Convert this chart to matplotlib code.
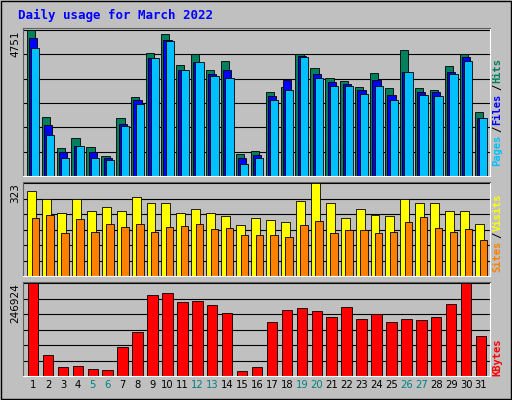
import matplotlib
matplotlib.use("Agg")
import matplotlib.pyplot as plt
import numpy as np

days = list(range(1, 32))
hits = [4751,1920,911,1237,944,651,1887,2571,4003,4621,3612,3970,3449,3742,716,814,2733,2896,3970,3514,3189,3091,2896,3352,2864,4100,2864,2798,3579,3970,2083]
files = [4490,1660,781,976,781,586,1692,2473,3840,4425,3449,3710,3319,3449,586,683,2603,3124,3905,3319,3059,2994,2798,3124,2636,3384,2733,2733,3384,3872,1887]
pages = [4165,1334,586,976,586,521,1627,2343,3840,4393,3449,3710,3254,3189,390,586,2473,2798,3872,3189,2929,2929,2668,2929,2473,3384,2636,2603,3319,3742,1887]
visits = [298,270,221,270,225,239,225,274,256,256,218,235,221,211,179,204,197,190,263,323,253,204,232,214,211,267,256,253,225,228,183]
sites = [204,214,151,200,154,183,172,183,154,172,176,183,165,169,144,144,144,137,179,193,151,162,162,151,154,190,207,169,154,165,126]
kbytes = [246924,56000,24000,27000,19000,16000,78000,118000,215000,220000,196000,199000,188000,169000,13000,24000,145000,177000,180000,172000,158000,183000,153000,164000,145000,153000,150000,156000,193000,246924,107000]
weekends = [5,6,12,13,19,20,26,27]

bg = "#C0C0C0"
fig = plt.figure(figsize=(5.12, 4.0), dpi=100, facecolor=bg)
fig.patches.append(plt.Rectangle((0.002,0.002),0.996,0.996,transform=fig.transFigure,fill=False,ec="#000000",lw=1))
fig.text(0.035, 0.962, "Daily usage for March 2022", color="#0000FF", fontsize=9,
         fontweight="bold", family="DejaVu Sans Mono", va="center")

x = np.array(days)
L, W = 0.045, 0.912
def mk(b, h, top):
    ax = fig.add_axes([L, b, W, h], facecolor=bg)
    ax.set_xlim(0.33, 31.6)
    ax.set_ylim(0, top * 1.015)
    for s in ax.spines.values():
        s.set_color("#606060")
    ax.spines["bottom"].set_color("#FFFFFF"); ax.spines["right"].set_color("#FFFFFF")
    ax.set_yticks([top]); ax.set_yticklabels([f"{top}"], rotation=90, va="top", fontsize=7.5)
    ax.tick_params(axis="y", length=0, pad=2)
    for f in np.linspace(0, 1, 7)[1:-1]:
        ax.axhline(top * f, color="#000000", lw=0.8, zorder=0)
    ax.axhline(top, color="#000000", lw=0.8, zorder=0)
    ax.set_axisbelow(True)
    return ax

ax1 = mk(0.56, 0.37, 4751)
ax1.bar(x - 0.15, hits, 0.55, color="#00805C", ec="#000000", lw=0.6)
ax1.bar(x, files, 0.55, color="#0000FF", ec="#000000", lw=0.6)
ax1.bar(x + 0.15, pages, 0.55, color="#00C0FF", ec="#000000", lw=0.6)
ax1.set_xticks([])

ax2 = mk(0.31, 0.235, 323)
ax2.bar(x - 0.1, visits, 0.6, color="#FFFF00", ec="#000000", lw=0.6)
ax2.bar(x + 0.15, sites, 0.5, color="#FF8000", ec="#000000", lw=0.6)
ax2.set_xticks([])

ax3 = mk(0.06, 0.235, 246924)
ax3.bar(x, kbytes, 0.7, color="#FF0000", ec="#000000", lw=0.6)
ax3.set_xticks(days)
ax3.set_xticklabels([str(d) for d in days], fontsize=7.2)
ax3.tick_params(axis="x", length=0, pad=3)
for t, d in zip(ax3.get_xticklabels(), days):
    t.set_color("#008080" if d in weekends else "#000000")

CH = 6.9 / 400.0  # char advance in figure fraction
def rlabel(parts, y0):
    y = y0
    for txt, col in parts:
        fig.text(0.962, y, txt, color=col, fontsize=7.5, fontweight="bold",
                 family="DejaVu Sans Mono", rotation=90, ha="left", va="bottom")
        y += len(txt) * CH
rlabel([("Pages", "#00C0FF"), ("/", "#000000"), ("Files", "#0000FF"), ("/", "#000000"), ("Hits", "#00805C")], 0.585)
for y0, gap in []:
    pass
rlabel([("Sites", "#FF8000"), ("/", "#000000"), ("Visits", "#FFFF00")], 0.32)
rlabel([("KBytes", "#FF0000")], 0.06)

fig.savefig("out.png", dpi=100, facecolor=bg)
